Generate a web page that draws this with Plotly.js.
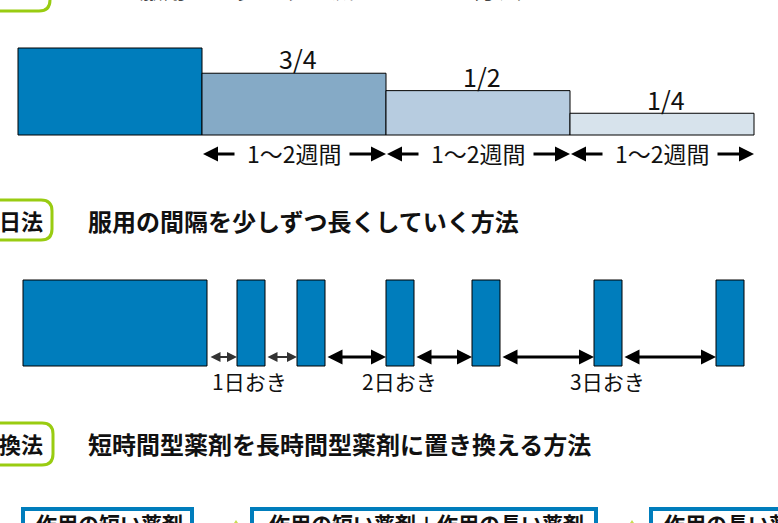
<!DOCTYPE html>
<html><head><meta charset="utf-8">
<script src="https://cdn.plot.ly/plotly-3.0.1.min.js"></script>
<style>html,body{margin:0;padding:0;background:#fff}#chart{width:778px;height:523px}</style>
</head><body><div id="chart"></div>
<script>
// ---- data ----
const sectionNames = ['漸減法', '隔日法', '置換法'];
const sectionTitles = ['服用量を少しずつ減らしていく方法', '服用の間隔を少しずつ長くしていく方法', '短時間型薬剤を長時間型薬剤に置き換える方法'];
const stepLabels = ['', '3/4', '1/2', '1/4'];
const stepFractions = [1.0, 0.71, 0.51, 0.25];
const periodLabels = ['1〜2週間', '1〜2週間', '1〜2週間'];
const doseTimes = [237, 297, 386, 472, 594, 716];   // timeline position of each single dose
const intervalLabels = ['1日おき', '2日おき', '3日おき'];
const replaceBoxes = ['作用の短い薬剤', '作用の短い薬剤＋作用の長い薬剤', '作用の長い薬剤'];

// ---- styles / geometry ----
const W = 778, H = 523;
const BLUE = '#007DBC';
const stepColors = [BLUE, '#85AAC6', '#B7CCE0', '#D7E3EC'];
const GREEN = '#99CC11';
const FONT = '"Noto Sans CJK JP", "Noto Sans", sans-serif';
const py = y => 1 - y / H, px = x => x / W;

const traces = [];
// Section 1: step-down bars
const s1Left = 18, s1W = 184, s1Base = 135, s1Full = 87;
traces.push({
  type: 'bar', x: stepFractions.map((_, i) => s1Left + s1W * i + s1W / 2),
  y: stepFractions.map(f => -f * s1Full), base: s1Base, width: s1W,
  marker: {color: stepColors, line: {color: '#000', width: 1}}, hoverinfo: 'skip'
});
// Section 2: initial period + single doses
const s2Base = 366, s2H = 86, doseW = 28;
traces.push({
  type: 'bar', x: [23 + 92].concat(doseTimes.map(t => t + doseW / 2)),
  y: [-s2H].concat(doseTimes.map(() => -s2H)), base: s2Base,
  width: [184].concat(doseTimes.map(() => doseW)),
  marker: {color: BLUE, line: {color: '#000', width: 1}}, hoverinfo: 'skip'
});

const annotations = [];
const shapes = [];
function txt(t, x, y, size, opts) {
  annotations.push(Object.assign({text: t, xref: 'paper', yref: 'paper', x: px(x), y: py(y),
    xanchor: 'center', yanchor: 'middle', showarrow: false,
    font: {family: FONT, size: size, color: '#111'}}, opts || {}));
}
function rbox(x0, y0, x1, y1, r) {
  return `M${x0 + r},${y0} L${x1 - r},${y0} Q${x1},${y0} ${x1},${y0 + r} L${x1},${y1 - r} Q${x1},${y1} ${x1 - r},${y1} L${x0 + r},${y1} Q${x0},${y1} ${x0},${y1 - r} L${x0},${y0 + r} Q${x0},${y0} ${x0 + r},${y0} Z`;
}
function arrow(x, y, ax, both, w, col) {
  annotations.push({x: x, y: y, ax: ax, ay: y, xref: 'x', yref: 'y', axref: 'x', ayref: 'y', text: '',
    showarrow: true, arrowhead: 2, arrowsize: 1, arrowwidth: w, arrowcolor: col,
    arrowside: both ? 'end+start' : 'end', standoff: 0, startstandoff: 0, startarrowhead: 2, startarrowsize: 1});
}

// section headers
const headerBoxes = [[-30, 11, 50], [200, 240, 52], [423, 465, 53]];
const headerY = [-13, 220, 443];
headerBoxes.forEach((b, i) => {
  shapes.push({type: 'path', path: rbox(-20, b[0], b[2], b[1], 11), line: {color: GREEN, width: 3}, fillcolor: '#fff', layer: 'below'});
  txt('<b>' + sectionNames[i] + '</b>', 45, headerY[i], 22, {xanchor: 'right'});
  txt('<b>' + sectionTitles[i] + '</b>', i === 0 ? 137 : 86, headerY[i], 24, {xanchor: 'left'});
});

// section 1 labels
const stepLabelY = [0, 58, 76, 99];
stepLabels.forEach((l, i) => { if (l) txt(l, s1Left + s1W * i + s1W / 2 + 4, stepLabelY[i], 25); });
periodLabels.forEach((l, i) => {
  const x0 = s1Left + s1W * (i + 1), x1 = x0 + s1W;
  const c = (x0 + x1) / 2;
  txt(l, c, 153, 23);
  arrow(x0 + 1, 154, c - 58, false, 3, '#000');
  arrow(x1, 154, c + 54, false, 3, '#000');
});

// section 2 arrows and labels
const gapStarts = [209].concat(doseTimes.slice(0, -1).map(t => t + doseW + 1));
gapStarts.forEach((g, i) => {
  const thin = i < 2;
  arrow(doseTimes[i], 357, g, true, thin ? 2 : 3, thin ? '#333' : '#000');
});
const intervalX = [249, 399, 607];
intervalLabels.forEach((l, i) => txt(l, intervalX[i], 381, 21));

// section 3 boxes
const boxX = [[23, 192], [252, 596], [651, 812]];
boxX.forEach((b, i) => {
  shapes.push({type: 'rect', xref: 'paper', yref: 'paper', x0: px(b[0]), x1: px(b[1]), y0: py(509), y1: py(560),
    line: {color: BLUE, width: 4}, fillcolor: '#fff'});
  if (i === 2) txt('<b>' + replaceBoxes[i] + '</b>', 662, 506, 21, {xanchor: 'left', yanchor: 'top'});
  else txt('<b>' + replaceBoxes[i] + '</b>', (b[0] + b[1]) / 2 + 2, 506, 21, {yanchor: 'top'});
});
[236, 632].forEach(x => shapes.push({type: 'path', xref: 'paper', yref: 'paper',
  path: `M${px(x - 2)},${py(523)} L${px(x)},${py(520)} L${px(x + 2)},${py(523)} Z`, line: {width: 0}, fillcolor: '#C8DC50'}));

const layout = {
  width: W, height: H, margin: {l: 0, r: 0, t: 0, b: 0},
  paper_bgcolor: '#fff', plot_bgcolor: '#fff', showlegend: false, barmode: 'overlay',
  xaxis: {range: [0, W], visible: false, fixedrange: true},
  yaxis: {range: [H, 0], visible: false, fixedrange: true},
  annotations: annotations, shapes: shapes
};
Plotly.newPlot('chart', traces, layout, {staticPlot: true, displayModeBar: false});
</script></body></html>
